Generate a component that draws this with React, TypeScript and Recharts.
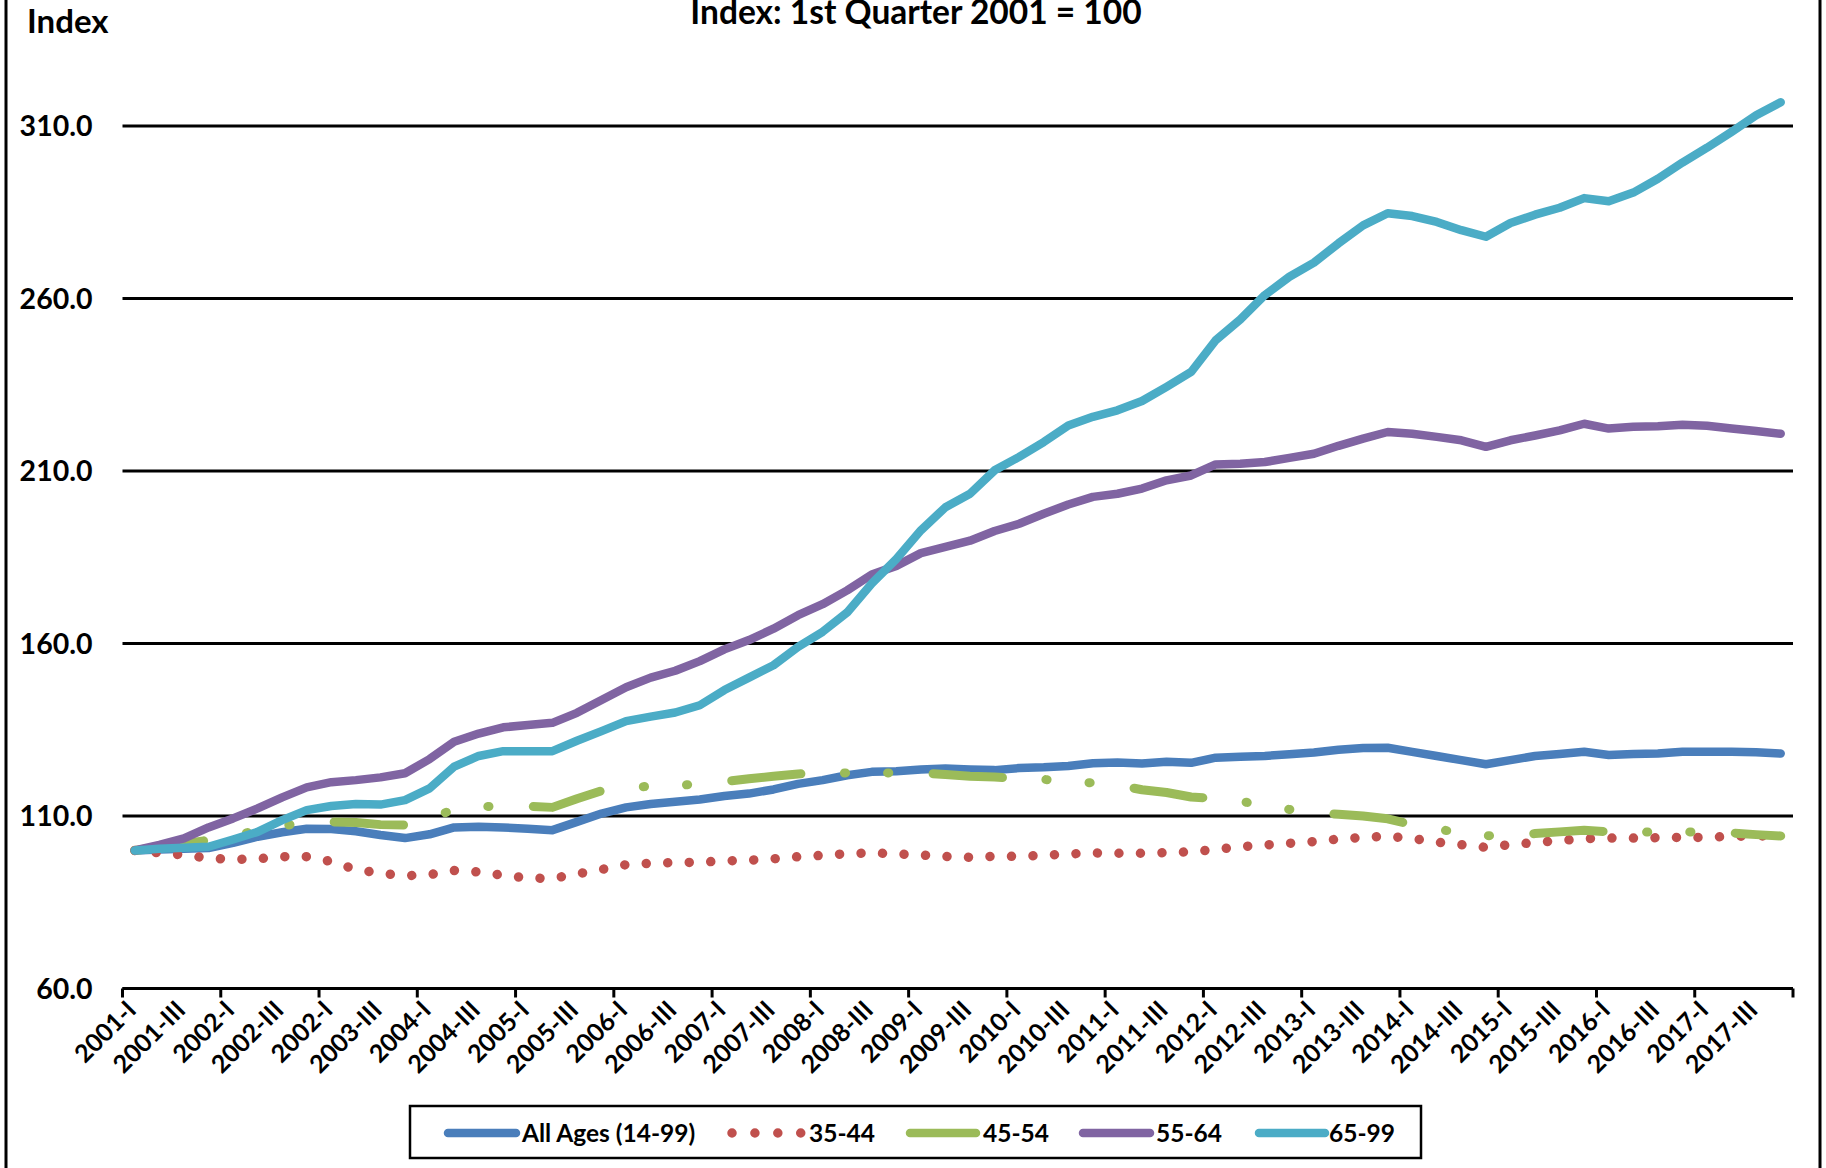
import { LineChart, Line, XAxis, YAxis, CartesianGrid } from 'recharts'

const quarters = [
  '2001-I', '2001-II', '2001-III', '2001-IV', '2002-I', '2002-II', '2002-III', '2002-IV',
  '2003-I', '2003-II', '2003-III', '2003-IV', '2004-I', '2004-II', '2004-III', '2004-IV',
  '2005-I', '2005-II', '2005-III', '2005-IV', '2006-I', '2006-II', '2006-III', '2006-IV',
  '2007-I', '2007-II', '2007-III', '2007-IV', '2008-I', '2008-II', '2008-III', '2008-IV',
  '2009-I', '2009-II', '2009-III', '2009-IV', '2010-I', '2010-II', '2010-III', '2010-IV',
  '2011-I', '2011-II', '2011-III', '2011-IV', '2012-I', '2012-II', '2012-III', '2012-IV',
  '2013-I', '2013-II', '2013-III', '2013-IV', '2014-I', '2014-II', '2014-III', '2014-IV',
  '2015-I', '2015-II', '2015-III', '2015-IV', '2016-I', '2016-II', '2016-III', '2016-IV',
  '2017-I', '2017-II', '2017-III', '2017-IV',
]

// labels shown under the axis (every second quarter, as printed in the source)
const tickLabels = [
  '2001-I', '2001-III', '2002-I', '2002-III', '2002-I', '2003-III', '2004-I', '2004-III',
  '2005-I', '2005-III', '2006-I', '2006-III', '2007-I', '2007-III', '2008-I', '2008-III',
  '2009-I', '2009-III', '2010-I', '2010-III', '2011-I', '2011-III', '2012-I', '2012-III',
  '2013-I', '2013-III', '2014-I', '2014-III', '2015-I', '2015-III', '2016-I', '2016-III',
  '2017-I', '2017-III',
]

const yTicks = [60, 110, 160, 210, 260, 310, 360]

const allAges = [
  100, 100.3, 100.5, 100.7, 102.2, 104.0, 105.3, 106.3,
  106.2, 105.6, 104.5, 103.6, 104.7, 106.7, 106.9, 106.7,
  106.3, 105.9, 108.3, 110.7, 112.5, 113.5, 114.1, 114.8,
  115.8, 116.5, 117.7, 119.3, 120.4, 121.8, 122.8, 123.0,
  123.5, 123.8, 123.5, 123.3, 123.9, 124.1, 124.5, 125.3,
  125.5, 125.2, 125.7, 125.4, 126.9, 127.2, 127.4, 127.9,
  128.4, 129.2, 129.7, 129.8, 128.6, 127.4, 126.2, 125.0,
  126.2, 127.4, 128.0, 128.6, 127.7, 128.0, 128.1, 128.6,
  128.6, 128.6, 128.5, 128.1,
]

const age3544 = [
  100, 99.3, 98.7, 97.8, 97.4, 97.6, 98.2, 98.2,
  96.8, 94.5, 93.4, 92.7, 93.0, 94.2, 93.8, 92.8,
  92.0, 91.9, 93.2, 94.5, 95.9, 96.3, 96.5, 96.6,
  97.0, 97.2, 97.6, 98.2, 98.6, 99.1, 99.3, 99.0,
  98.7, 98.3, 98.0, 98.3, 98.3, 98.6, 99.0, 99.3,
  99.2, 99.2, 99.4, 99.6, 100.3, 101.1, 101.6, 102.1,
  102.6, 103.3, 103.8, 104.1, 103.5, 102.4, 101.7, 100.9,
  101.7, 102.3, 102.9, 103.4, 103.6, 103.6, 103.7, 103.8,
  103.8, 104.1, 104.2, 104.3,
]

const age4554 = [
  100, 101.0, 102.0, 103.0, 104.3, 105.8, 107.2, 108.0,
  108.3, 108.1, 107.5, 107.4, 109.5, 111.8, 112.6, 113.0,
  112.8, 112.5, 115.0, 117.3, 118.0, 118.7, 118.9, 119.2,
  120.0, 120.8, 121.5, 122.2, 122.4, 122.5, 122.5, 122.5,
  122.5, 122.0, 121.5, 121.3, 120.8, 120.6, 120.0, 119.6,
  119.0, 117.6, 116.8, 115.5, 115.1, 114.3, 113.0, 111.9,
  111.0, 110.5, 110.0, 109.2, 107.5, 106.3, 105.0, 104.3,
  104.3, 104.9, 105.4, 105.9, 105.4, 105.3, 105.4, 105.4,
  105.3, 105.1, 104.6, 104.2,
]

const age5564 = [
  100, 101.6, 103.5, 106.7, 109.3, 112.2, 115.4, 118.3,
  119.8, 120.4, 121.2, 122.4, 126.5, 131.5, 133.9, 135.7,
  136.4, 137.0, 139.9, 143.6, 147.3, 150.1, 152.1, 154.9,
  158.3, 161.0, 164.3, 168.2, 171.4, 175.4, 180.0, 182.5,
  186.2, 188.0, 189.8, 192.6, 194.7, 197.6, 200.3, 202.5,
  203.4, 204.9, 207.3, 208.7, 211.9, 212.1, 212.6, 213.8,
  215.0, 217.3, 219.4, 221.3, 220.8, 219.9, 218.9, 217.0,
  218.9, 220.3, 221.8, 223.7, 222.3, 222.8, 223.0, 223.4,
  223.1, 222.3, 221.6, 220.8,
]

const age6599 = [
  100, 100.5, 100.8, 101.1, 103.2, 105.4, 108.8, 111.7,
  112.9, 113.5, 113.3, 114.6, 118.0, 124.3, 127.4, 128.8,
  128.8, 128.8, 131.8, 134.6, 137.5, 138.8, 140.0, 142.1,
  146.5, 150.1, 153.7, 159.0, 163.4, 169.0, 177.4, 184.5,
  192.8, 199.5, 203.4, 210.2, 214.1, 218.4, 223.2, 225.7,
  227.6, 230.3, 234.4, 238.7, 247.9, 253.9, 261.0, 266.3,
  270.4, 276.0, 281.2, 284.7, 283.9, 282.2, 279.8, 277.9,
  281.9, 284.3, 286.3, 289.1, 288.2, 290.7, 294.7, 299.4,
  303.7, 308.3, 313.1, 316.9,
]

const data = quarters.map((q, i) => ({
  idx: i,
  quarter: q,
  all: allAges[i],
  a3544: age3544[i],
  a4554: age4554[i],
  a5564: age5564[i],
  a6599: age6599[i],
}))

const W = 1826
const H = 1168
const SHIFT = 80 // top of the original chart is cropped off
const FONT = "Lato, 'Open Sans', sans-serif"

const BLUE = '#4A7EBB'
const RED = '#C0504D'
const GREEN = '#9BBB59'
const PURPLE = '#8064A2'
const CYAN = '#4BACC6'
const LW = 8.5

// tick marks between every 4th quarter, labels on every 2nd quarter
const boundaryTicks = Array.from({ length: 18 }, (_, k) => -0.5 + k * 4)
const labelTicks = tickLabels.map((_, k) => k * 2)
const xTicks = [...boundaryTicks, ...labelTicks]

function XTick(props: any) {
  const { x, y, payload } = props
  const v = payload.value
  if (v % 1 !== 0) {
    return <line x1={x} y1={y} x2={x} y2={y + 9} stroke="#000" strokeWidth={3} />
  }
  const label = tickLabels[v / 2]
  return (
    <g transform={`translate(${x + 3},${y + 23}) rotate(-45)`}>
      <text textAnchor="end" fontFamily={FONT} fontWeight={700} fontSize={25} fill="#000">
        {label}
      </text>
    </g>
  )
}

const legendItems = [
  { name: 'All Ages (14-99)', color: BLUE, x1: 448, x2: 516, tx: 522, dotted: false },
  { name: '35-44', color: RED, x1: 732, x2: 801, tx: 809, dotted: true },
  { name: '45-54', color: GREEN, x1: 910, x2: 976, tx: 983, dotted: false },
  { name: '55-64', color: PURPLE, x1: 1083, x2: 1150, tx: 1156, dotted: false },
  { name: '65-99', color: CYAN, x1: 1259, x2: 1325, tx: 1329, dotted: false },
]

export default function App() {
  return (
    <div style={{ position: 'absolute', left: 0, top: 0, width: W, height: H, overflow: 'hidden', background: '#fff' }}>
      <div style={{ position: 'absolute', left: 0, top: -SHIFT }}>
        <LineChart
          width={W}
          height={H + SHIFT}
          data={data}
          margin={{ top: 33.5, right: 33, bottom: 79.5, left: 0 }}
        >
          <CartesianGrid vertical={false} stroke="#000" strokeWidth={3} />
          <XAxis
            dataKey="idx"
            type="number"
            domain={[-0.5, 67.5]}
            ticks={xTicks}
            interval={0}
            height={100}
            tickSize={0}
            tickMargin={0}
            tickLine={false}
            axisLine={{ stroke: '#000', strokeWidth: 3 }}
            tick={<XTick />}
          />
          <YAxis
            domain={[60, 360]}
            ticks={yTicks}
            interval={0}
            width={122.5}
            tickSize={0}
            tickMargin={30}
            axisLine={false}
            tickLine={false}
            tickFormatter={(v: number) => v.toFixed(1)}
            tick={{ fontFamily: FONT, fontWeight: 700, fontSize: 28.5, fill: '#000' }}
          />
          <Line type="linear" dataKey="all" stroke={BLUE} strokeWidth={LW} dot={false}
            strokeLinecap="round" strokeLinejoin="round" isAnimationActive={false} />
          <Line type="linear" dataKey="a3544" stroke={RED} strokeWidth={9.5} dot={false}
            strokeLinecap="round" strokeDasharray="0.01 21.5" isAnimationActive={false} />
          <Line type="linear" dataKey="a4554" stroke={GREEN} strokeWidth={LW + 0.5} dot={false}
            strokeLinecap="round" strokeLinejoin="round" strokeDasharray="69.5 43.5 1.2 42 1.2 44.3"
            isAnimationActive={false} />
          <Line type="linear" dataKey="a5564" stroke={PURPLE} strokeWidth={LW} dot={false}
            strokeLinecap="round" strokeLinejoin="round" isAnimationActive={false} />
          <Line type="linear" dataKey="a6599" stroke={CYAN} strokeWidth={LW} dot={false}
            strokeLinecap="round" strokeLinejoin="round" isAnimationActive={false} />
        </LineChart>
      </div>
      <svg width={W} height={H} style={{ position: 'absolute', left: 0, top: 0, pointerEvents: 'none' }}>
        <rect x={6} y={-10} width={1814} height={1200} fill="none" stroke="#000" strokeWidth={3} />
        <text x={916} y={24} textAnchor="middle" fontFamily={FONT} fontWeight={700} fontSize={33.5} fill="#000">
          Index: 1st Quarter 2001 = 100
        </text>
        <text x={27} y={33} fontFamily={FONT} fontWeight={700} fontSize={33} fill="#000">
          Index
        </text>
        <rect x={410} y={1106} width={1011} height={52} fill="#fff" stroke="#000" strokeWidth={2.5} />
        {legendItems.map((it) => (
          <g key={it.name}>
            {it.dotted ? (
              <line x1={it.x1} y1={1133} x2={it.x2} y2={1133} stroke={it.color} strokeWidth={9.5}
                strokeLinecap="round" strokeDasharray="0.01 22.9" />
            ) : (
              <line x1={it.x1} y1={1133} x2={it.x2} y2={1133} stroke={it.color} strokeWidth={LW}
                strokeLinecap="round" />
            )}
            <text x={it.tx} y={1141.5} fontFamily={FONT} fontWeight={700} fontSize={24.5} fill="#000">
              {it.name}
            </text>
          </g>
        ))}
      </svg>
    </div>
  )
}
